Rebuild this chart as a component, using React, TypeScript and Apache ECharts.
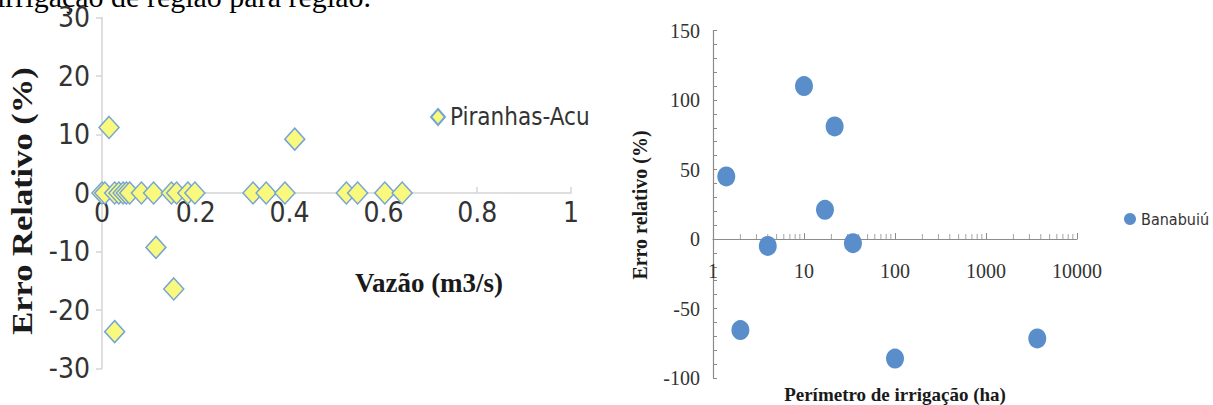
import React, { useEffect, useRef } from "react";
import * as echarts from "echarts";

// ---------- texts ----------
const topText = "irrigação de região para região.";
const leftXTitle = "Vazão (m3/s)";
const leftYTitle = "Erro Relativo (%)";
const leftSeriesName = "Piranhas-Acu";
const rightXTitle = "Perímetro de irrigação (ha)";
const rightYTitle = "Erro relativo (%)";
const rightSeriesName = "Banabuiú";

// ---------- left chart data: [vazão, erro relativo] ----------
const piranhasData: number[][] = [
  [0, 0], [0.006, 0], [0.027, 0], [0.036, 0], [0.045, 0], [0.052, 0], [0.059, 0],
  [0.084, 0], [0.11, 0], [0.148, 0], [0.159, 0], [0.183, 0], [0.198, 0],
  [0.322, 0], [0.35, 0], [0.39, 0], [0.521, 0], [0.545, 0], [0.603, 0], [0.64, 0],
  [0.015, 11.2], [0.411, 9.2], [0.115, -9.3], [0.153, -16.4], [0.027, -23.7],
];

// ---------- right chart data: [perímetro (ha), erro relativo] ----------
const banabuiuData: number[][] = [
  [1.4, 45], [2, -65.5], [4, -5], [10, 110], [17, 21], [21.7, 81],
  [34.5, -3], [100, -86], [3660, -71.5],
];

// log-axis minor tick values (2..9 in each decade)
const logMinorTicks: number[] = [
  2, 3, 4, 5, 6, 7, 8, 9,
  20, 30, 40, 50, 60, 70, 80, 90,
  200, 300, 400, 500, 600, 700, 800, 900,
  2000, 3000, 4000, 5000, 6000, 7000, 8000, 9000,
];

const narrow = "'Liberation Sans Narrow', 'Arial Narrow', 'DejaVu Sans Condensed', sans-serif";
const serif = "'Liberation Serif', 'Times New Roman', serif";

export default function App() {
  const ref = useRef<HTMLDivElement>(null);

  useEffect(() => {
    if (!ref.current) return;
    const chart = echarts.init(ref.current, undefined, { renderer: "svg" });
    const option: any = {
      animation: false,
      backgroundColor: "#ffffff",
      grid: [
        { left: 102, top: 17.5, width: 469, height: 351 },
        { left: 713, top: 30.5, width: 364, height: 347.5 },
      ],
      xAxis: [
        {
          gridIndex: 0, type: "value", min: 0, max: 1, interval: 0.2,
          position: "bottom", offset: -175.5,
          axisLine: { onZero: false, lineStyle: { color: "#d4d4d4", width: 1.5 } },
          axisTick: { show: true, inside: true, length: 6, lineStyle: { color: "#d4d4d4", width: 1.5 } },
          axisLabel: { margin: 5, fontSize: 28, fontFamily: narrow, color: "#333" },
          splitLine: { show: false },
        },
        {
          gridIndex: 1, type: "log", logBase: 10, min: 1, max: 10000,
          position: "bottom", offset: -139,
          axisLine: { onZero: false, lineStyle: { color: "#8c8c8c", width: 1.2 } },
          axisTick: { show: true, inside: true, length: 6, lineStyle: { color: "#8c8c8c" } },
          axisLabel: {
            margin: 22, fontSize: 20, fontFamily: serif, color: "#333",
            formatter: (v: number) => String(Math.round(v)),
          },
          splitLine: { show: false },
        },
      ],
      yAxis: [
        {
          gridIndex: 0, type: "value", min: -30, max: 30, interval: 10,
          axisLine: { show: true, onZero: false, lineStyle: { color: "#d4d4d4", width: 1.5 } },
          axisTick: { show: true, inside: false, length: 6, lineStyle: { color: "#d4d4d4", width: 1.5 } },
          axisLabel: { margin: 12, fontSize: 28, fontFamily: narrow, color: "#333" },
          splitLine: { show: false },
        },
        {
          gridIndex: 1, type: "value", min: -100, max: 150, interval: 50,
          axisLine: { show: true, onZero: false, lineStyle: { color: "#8c8c8c", width: 1.2 } },
          axisTick: { show: true, inside: true, length: 4, lineStyle: { color: "#8c8c8c" } },
          minorTick: { show: true, splitNumber: 5, length: 4, lineStyle: { color: "#8c8c8c" } },
          axisLabel: { margin: 13, fontSize: 20, fontFamily: serif, color: "#333" },
          splitLine: { show: false },
        },
      ],
      legend: [
        {
          data: [leftSeriesName], left: 430, top: 105, padding: 0,
          itemWidth: 14, itemHeight: 16, selectedMode: false,
          textStyle: { fontSize: 24, fontFamily: narrow, color: "#333" },
        },
        {
          data: [rightSeriesName], left: 1124, top: 211, padding: 0,
          itemWidth: 12, itemHeight: 13, selectedMode: false,
          textStyle: { fontSize: 16, fontFamily: narrow, color: "#333" },
        },
      ],
      series: [
        {
          name: leftSeriesName, type: "scatter", xAxisIndex: 0, yAxisIndex: 0,
          data: piranhasData, symbol: "diamond", symbolSize: [20, 22],
          itemStyle: { color: "#f9f97e", borderColor: "#74a3d6", borderWidth: 1.5, opacity: 1 },
          z: 3,
        },
        {
          type: "scatter", xAxisIndex: 1, yAxisIndex: 1, silent: true,
          data: logMinorTicks.map((v) => [v, 0]), symbol: "rect",
          symbolSize: [1, 5], symbolOffset: [0, -2.5],
          itemStyle: { color: "#8c8c8c" }, z: 1,
        },
        {
          name: rightSeriesName, type: "scatter", xAxisIndex: 1, yAxisIndex: 1,
          data: banabuiuData, symbol: "circle", symbolSize: [18, 20],
          itemStyle: { color: "#5a8ecb", opacity: 1 },
          z: 3,
        },
      ],
      graphic: [
        {
          type: "text", x: -3, y: -4,
          style: { text: topText, fontSize: 30, fontFamily: serif, fill: "#000", align: "left", verticalAlign: "middle" },
        },
        {
          type: "text", x: 429, y: 283,
          style: { text: leftXTitle, fontSize: 27, fontWeight: "bold", fontFamily: serif, fill: "#1a1a1a", align: "center", verticalAlign: "middle" },
        },
        {
          type: "text", x: 22, y: 201, rotation: Math.PI / 2, scaleX: 1.15,
          style: { text: leftYTitle, fontSize: 30, fontWeight: "bold", fontFamily: serif, fill: "#1a1a1a", align: "center", verticalAlign: "middle" },
        },
        {
          type: "text", x: 895, y: 394,
          style: { text: rightXTitle, fontSize: 19, fontWeight: "bold", fontFamily: serif, fill: "#1a1a1a", align: "center", verticalAlign: "middle" },
        },
        {
          type: "text", x: 640, y: 205, rotation: Math.PI / 2,
          style: { text: rightYTitle, fontSize: 20, fontWeight: "bold", fontFamily: serif, fill: "#1a1a1a", align: "center", verticalAlign: "middle" },
        },
      ],
    };
    chart.setOption(option);
    return () => chart.dispose();
  }, []);

  return (
    <div
      ref={ref}
      style={{ position: "absolute", left: 0, top: 0, width: 1213, height: 405 }}
    />
  );
}
